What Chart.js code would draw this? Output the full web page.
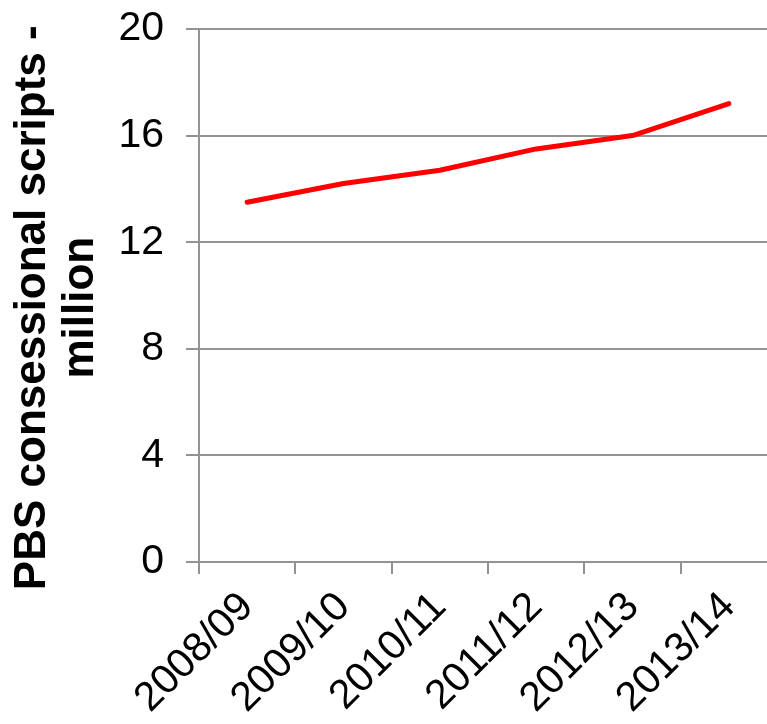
<!DOCTYPE html>
<html>
<head>
<meta charset="utf-8">
<title>PBS consessional scripts</title>
<script src="https://cdn.jsdelivr.net/npm/chart.js@4/dist/chart.umd.min.js"></script>
<style>
  html, body { margin: 0; padding: 0; background: #ffffff; overflow: hidden; }
  #wrap { position: relative; width: 777px; height: 724px; }
  canvas { display: block; }
</style>
</head>
<body>
<div id="wrap"><canvas id="chart" width="777" height="724"></canvas></div>
<script>
// Financial years on the category axis
const years = ['2008/09', '2009/10', '2010/11', '2011/12', '2012/13', '2013/14'];
// Concessional scripts, millions
const scripts = [13.5, 14.2, 14.7, 15.5, 16.0, 17.2];
// Value axis range and step
const yMin = 0;
const yMax = 20;
const yStep = 4;
// Axis title lines (trailing spaces nudge the centred text downwards)
const yTitle = ['PBS consessional scripts -\u00a0\u00a0', 'million\u00a0\u00a0'];

const axisGrey = '#939393';
const tickFont = { family: '"Liberation Sans", Arial, sans-serif', size: 41 };

new Chart(document.getElementById('chart'), {
  type: 'line',
  data: {
    labels: years,
    datasets: [{
      data: scripts,
      borderColor: '#ff0000',
      borderWidth: 5,
      borderCapStyle: 'round',
      borderJoinStyle: 'round',
      pointRadius: 0,
      tension: 0,
      fill: false
    }]
  },
  options: {
    responsive: false,
    animation: false,
    layout: { padding: { top: 29, right: 0, bottom: 0, left: 0 } },
    plugins: { legend: { display: false }, tooltip: { enabled: false } },
    scales: {
      x: {
        offset: true,
        grid: {
          offset: true,
          drawOnChartArea: false,
          drawTicks: true,
          tickLength: 12,
          color: axisGrey,
          lineWidth: 2
        },
        border: { display: true, color: axisGrey, width: 2 },
        ticks: {
          autoSkip: false,
          minRotation: 45,
          maxRotation: 45,
          padding: 9,
          color: '#000000',
          font: tickFont
        },
        afterFit: (scale) => {
          scale.height = 162;
          scale.paddingLeft = 0;
          scale.paddingRight = 0;
        }
      },
      y: {
        min: yMin,
        max: yMax,
        grid: {
          color: axisGrey,
          lineWidth: 2,
          tickLength: 13
        },
        border: { display: true, color: axisGrey, width: 2 },
        ticks: {
          stepSize: yStep,
          padding: 22,
          color: '#000000',
          font: tickFont
        },
        title: {
          display: true,
          text: yTitle,
          color: '#000000',
          padding: { top: 9, bottom: 0 },
          font: { family: '"Liberation Sans", Arial, sans-serif', size: 44, weight: 'bold', lineHeight: 1.09 }
        },
        afterFit: (scale) => {
          scale.width = 199;
          scale.paddingTop = 0;
          scale.paddingBottom = 0;
        }
      }
    }
  }
});
</script>
</body>
</html>
